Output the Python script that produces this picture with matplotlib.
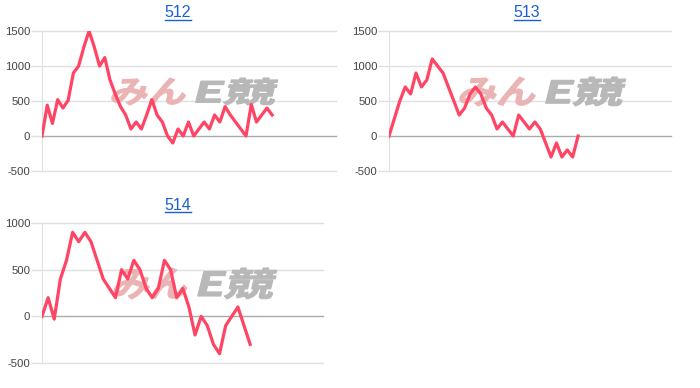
import matplotlib.pyplot as plt
from matplotlib.lines import Line2D
from matplotlib.patches import PathPatch
from matplotlib.textpath import TextPath
from matplotlib.font_manager import FontProperties
from matplotlib.transforms import Affine2D

plt.rcParams['font.family'] = ['Liberation Sans', 'DejaVu Sans']
plt.rcParams['axes.unicode_minus'] = False

# Data
titles = ["512", "513", "514"]
s512 = [0, 440, 180, 520, 400, 510, 900, 1000, 1270, 1500,
        1270, 1000, 1120, 800, 600, 420, 300, 100, 200, 100,
        300, 520, 300, 200, 0, -100, 100, 0, 200, 0,
        100, 200, 100, 300, 200, 420, 300, 200, 100, 0,
        450, 200, 300, 400, 300]
s513 = [0, 250, 500, 700, 600, 900, 700, 800, 1100, 1000,
        900, 700, 500, 300, 400, 600, 700, 600, 400, 300,
        100, 200, 100, 0, 300, 200, 100, 200, 100, -100,
        -300, -100, -300, -200, -300, 0]
s514 = [0, 200, -30, 400, 600, 900, 800, 900, 800, 600,
        400, 300, 200, 500, 400, 600, 500, 300, 200, 300,
        600, 500, 200, 300, 100, -200, 0, -100, -300, -400,
        -100, 0, 100, -100, -300]
yticks_top = [-500, 0, 500, 1000, 1500]
yticks_bottom = [-500, 0, 500, 1000]

W, H = 700, 388
fig = plt.figure(figsize=(7, 3.88), dpi=100)
px = Affine2D().scale(1 / W, 1 / H) + fig.transFigure

def box(l, r, top, bottom):
    return [l / W, 1 - bottom / H, (r - l) / W, (bottom - top) / H]

line_color = "#ff4464"
grid_color = "#e0e0e0"

def panel(rect, vals, xmax, ticks):
    ax = fig.add_axes(rect)
    ax.set_facecolor("none")
    ax.plot(range(len(vals)), vals, color=line_color, lw=2.3, zorder=3)
    ax.set_xlim(0, xmax)
    ax.set_ylim(ticks[0], ticks[-1])
    ax.set_yticks(ticks)
    ax.set_xticks([])
    for t in ticks:
        ax.axhline(t, color=grid_color if t != 0 else "#aaaaaa", lw=1, zorder=1,
                   clip_on=False)
    for s in ["top", "right", "bottom"]:
        ax.spines[s].set_visible(False)
    ax.spines["left"].set_color(grid_color)
    ax.tick_params(axis="y", length=8, width=1, color=grid_color,
                   labelsize=8.2, labelcolor="#444444", pad=0.5)
    return ax

ax1 = panel(box(42, 336, 31, 171), s512, 56.2, yticks_top)
ax2 = panel(box(389, 671, 31, 171), s513, 52.2, yticks_top)
ax3 = panel(box(42, 323, 223, 363), s514, 45.9, yticks_bottom)

# watermark logo, stretched and slanted text paths in pixel space
wm_font = FontProperties(family="Noto Sans CJK JP", weight="bold")

def logo_part(ax, s, x0, x1, ytop, ybot, color):
    tp = TextPath((0, 0), s, size=1, prop=wm_font)
    ext = tp.get_extents()
    h = ybot - ytop
    tr = (Affine2D().translate(-ext.x0, -ext.y0)
          .scale((x1 - x0 - 0.25 * h) / ext.width, h / ext.height)
          .skew_deg(14, 0)
          .translate(x0, H - ybot))
    patch = PathPatch(tr.transform_path(tp), facecolor=color, edgecolor=color,
                      lw=0.8, transform=px, zorder=2, clip_on=False)
    ax.add_patch(patch)

def watermark(ax, xa, xb, xc, ytop, ybot):
    logo_part(ax, "みん", xa, xb, ytop, ybot, "#ebb4b4")
    logo_part(ax, "E競", xb + 5, xc, ytop, ybot, "#b8b8b8")

watermark(ax1, 110, 190, 280, 78, 105)
watermark(ax2, 458, 540, 628, 77, 106)
watermark(ax3, 112, 192, 279, 268, 299)

# link-style titles with underline
title_pos = [(178, 12.5), (527, 12.5), (178, 205)]
fig.canvas.draw()
rend = fig.canvas.get_renderer()
for t, (x, y) in zip(titles, title_pos):
    txt = fig.text(x / W, 1 - y / H, t, color="#1a5fd0", fontsize=11.5,
                   ha="center", va="center")
    bb = txt.get_window_extent(rend)
    uy = (bb.y0 + 0.5) / H
    fig.add_artist(Line2D([bb.x0 / W, bb.x1 / W], [uy, uy],
                          color="#1a5fd0", lw=1.0))

fig.savefig("out.png", dpi=100)
